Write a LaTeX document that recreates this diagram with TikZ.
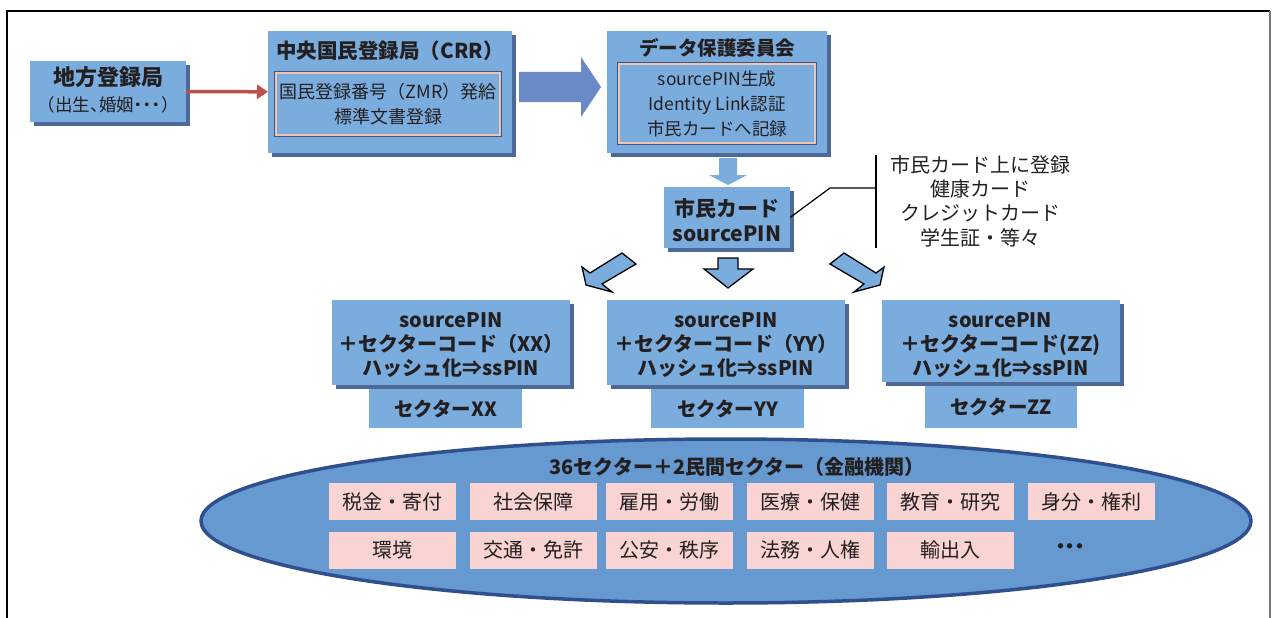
\documentclass[tikz,border=0pt]{standalone}
\usepackage{fontspec}
\setmainfont{Noto Sans CJK JP}
\newfontfamily\paltfont{Noto Sans CJK JP}[RawFeature=+palt]
\usetikzlibrary{shapes.geometric,shadows,arrows.meta}
\definecolor{boxblue}{RGB}{122,173,222}
\definecolor{shadowc}{RGB}{77,105,152}
\definecolor{bigarrowc}{RGB}{106,137,199}
\definecolor{ellfill}{RGB}{102,153,207}
\definecolor{ellline}{RGB}{47,79,143}
\definecolor{pinkc}{RGB}{249,212,210}
\definecolor{redc}{RGB}{192,80,77}
\definecolor{innerdark}{RGB}{59,90,138}
\definecolor{innerpink}{RGB}{242,196,174}
\definecolor{framegray}{RGB}{120,120,120}
\definecolor{textc}{RGB}{35,31,32}
\newcommand\myfs[2]{\fontsize{#1}{#2}\selectfont}
\begin{document}
\begin{tikzpicture}[x=1pt,y=-1pt,
  bluebox/.style={fill=boxblue, inner sep=0pt, outer sep=0pt, align=center, text=textc,
     drop shadow={shadow xshift=4pt, shadow yshift=-4pt, fill=shadowc, opacity=1}},
  plainbox/.style={fill=boxblue, inner sep=0pt, align=center, text=textc},
  innerbox/.style={draw=innerpink, line width=1.6pt, fill=boxblue, inner sep=0pt, align=center, text=textc},
  pinkbox/.style={fill=pinkc, minimum width=127pt, minimum height=37pt, inner sep=0pt, font=\myfs{20}{22}, text=textc},
  oarrow/.style={fill=boxblue, draw=black, line width=1.3pt, line join=miter},
  ttl/.style={text=textc, inner sep=0pt, align=center},
  conn/.style={draw=black, line width=1.2pt}
]
\useasboundingbox (0,0) rectangle (1274,618);
% frame
\draw[black, line width=1.5pt] (7,618) -- (7,11) -- (1270,11);
\draw[framegray, line width=1.5pt] (1270,11) -- (1270,618);

% local registry
\node[bluebox, minimum width=156pt, minimum height=61pt] (chiho) at (108,91.5) {};
\node[ttl, font=\myfs{22}{26}\bfseries] (chihot) at (108,77.5) {地方登録局};
\node[ttl, font=\paltfont\myfs{17.5}{20}] (chihos) at (108,105) {（\hspace{1.5pt}出生、婚姻・・・\hspace{1.5pt}）};

% CRR
\node[bluebox, minimum width=244pt, minimum height=122pt] (crr) at (390,92) {};
\node[ttl, font=\myfs{20.5}{26}\bfseries] (crrt) at (390,51) {中央国民登録局（CRR）};
\node[innerbox, minimum width=224pt, minimum height=62pt, font=\myfs{18}{25}] (crri) at (388,104) {国民登録番号（ZMR）発給\\標準文書登録};
\draw[innerdark, line width=1pt] ([xshift=-0.5pt,yshift=-0.5pt]crri.south west) rectangle ([xshift=0.5pt,yshift=0.5pt]crri.north east);

\draw[redc, line width=3.5pt, -{Triangle[length=11pt,width=14pt]}] (chiho) -- (crr);

% big arrow
\fill[bigarrowc] (519,72) -- (581,72) -- (581,57) -- (601,87) -- (581,117) -- (581,102) -- (519,102) -- cycle;

% data protection commission
\node[bluebox, minimum width=220pt, minimum height=122pt] (dpc) at (717,92) {};
\node[ttl, font=\myfs{19.5}{26}\bfseries] (dpct) at (717,48) {データ保護委員会};
\node[innerbox, minimum width=196pt, minimum height=79pt, font=\myfs{17.5}{25}] (dpci) at (717,103.5) {sourcePIN生成\\Identity Link認証\\市民カードへ記録};
\draw[innerdark, line width=1pt] ([xshift=-0.5pt,yshift=-0.5pt]dpci.south west) rectangle ([xshift=0.5pt,yshift=0.5pt]dpci.north east);

% small down arrow
\fill[boxblue] (719,158) -- (737,158) -- (737,175) -- (747,175) -- (728,185) -- (709,175) -- (719,175) -- cycle;

% citizen card
\node[bluebox, minimum width=126pt, minimum height=61pt] (card) at (727,217.5) {};
\node[ttl, font=\myfs{21}{25}\bfseries] (cardt) at (727,220) {市民カード\\sourcePIN};

% connector and side text
\coordinate (k1) at (830,188);
\coordinate (vt) at (876,155);
\coordinate (vb) at (876,248);
\draw[conn] (card.east) -- (k1) -- (k1 -| vt);
\draw[conn] (vt) -- (vb);
\node[ttl, font=\myfs{20}{24.3}] (reg) at (980,201) {市民カード上に登録\\健康カード\\クレジットカード\\学生証・等々};

% three outlined arrows
\draw[oarrow] (622,253) -- (590,273) -- (582,267) -- (586,285) -- (612,292) -- (602,284) -- (636,264) -- cycle;
\draw[oarrow] (718,258) -- (738,258) -- (738,269) -- (753,269) -- (728,288) -- (704,269) -- (718,269) -- cycle;
\draw[oarrow] (844,253) -- (876,273) -- (884,267) -- (880,285) -- (854,292) -- (864,284) -- (830,264) -- cycle;

% sector boxes
\node[bluebox, minimum width=238pt, minimum height=85pt] (sx) at (451,342.5) {};
\node[bluebox, minimum width=238pt, minimum height=85pt] (sy) at (726,342.5) {};
\node[bluebox, minimum width=238pt, minimum height=82pt] (sz) at (1000.5,341) {};
\node[ttl, font=\myfs{20}{24}\bfseries] (sxt) at (451,345.5) {sourcePIN\\＋セクターコード（XX）\\ハッシュ化⇒ssPIN};
\node[ttl, font=\myfs{20}{24}\bfseries] (syt) at (726,345.5) {sourcePIN\\＋セクターコード（YY）\\ハッシュ化⇒ssPIN};
\node[ttl, font=\myfs{20}{24}\bfseries] (szt) at (1000.5,345) {sourcePIN\\＋セクターコード(ZZ)\\ハッシュ化⇒ssPIN};
\node[plainbox, minimum width=153pt, minimum height=39pt, font=\myfs{19.5}{24}\bfseries] (lx) at (445.5,408.5) {セクターXX};
\node[plainbox, minimum width=153pt, minimum height=39pt, font=\myfs{19.5}{24}\bfseries] (ly) at (727.5,408.5) {セクターYY};
\node[plainbox, minimum width=152pt, minimum height=42pt, font=\myfs{19.5}{24}\bfseries] (lz) at (1001,407) {セクターZZ};

% ellipse with sectors
\node[ellipse, draw=ellline, line width=3.5pt, fill=ellfill, minimum width=1050pt, minimum height=164pt, inner sep=0pt] (ell) at (726,521) {};
\node[ttl, font=\myfs{20}{22}\bfseries] (ellt) at (737,467) {36セクター＋2民間セクター（金融機関）};
\node[pinkbox] (p1) at (392.5,501.5) {税金・寄付};
\node[pinkbox] (p2) at (533,501.5) {社会保障};
\node[pinkbox] (p3) at (669.5,501.5) {雇用・労働};
\node[pinkbox] (p4) at (810.5,501.5) {医療・保健};
\node[pinkbox] (p5) at (950,501.5) {教育・研究};
\node[pinkbox] (p6) at (1091,501.5) {身分・権利};
\node[pinkbox] (q1) at (392.5,550) {環境};
\node[pinkbox] (q2) at (533,550) {交通・免許};
\node[pinkbox] (q3) at (669.5,550) {公安・秩序};
\node[pinkbox] (q4) at (810.5,550) {法務・人権};
\node[pinkbox] (q5) at (950,550) {輸出入};
\node[ttl, font=\paltfont\myfs{19}{22}\bfseries] (dots) at (1070,549) {・・・};
\end{tikzpicture}
\end{document}
